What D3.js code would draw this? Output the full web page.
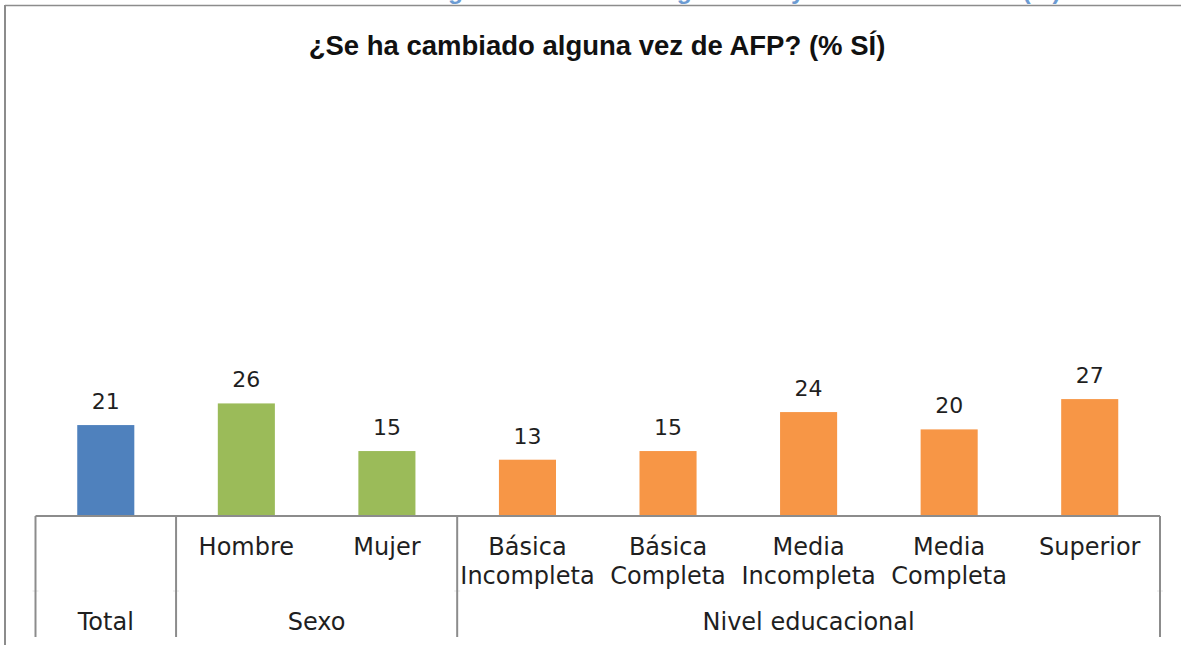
<!DOCTYPE html>
<html>
<head>
<meta charset="utf-8">
<script src="https://cdn.jsdelivr.net/npm/d3@7"></script>
<style>
  html, body { margin: 0; padding: 0; background: #fff; }
  svg { display: block; }
</style>
</head>
<body>
<svg id="chart" width="1181" height="645"></svg>
<script>
// ---- data ----
const categories = ["Total", "Hombre", "Mujer", "Básica Incompleta", "Básica Completa", "Media Incompleta", "Media Completa", "Superior"];
const categoryLines = [[""], ["Hombre"], ["Mujer"], ["Básica", "Incompleta"], ["Básica", "Completa"], ["Media", "Incompleta"], ["Media", "Completa"], ["Superior"]];
const values = [21, 26, 15, 13, 15, 24, 20, 27];
const groups = ["Total", "Sexo", "Sexo", "Nivel educacional", "Nivel educacional", "Nivel educacional", "Nivel educacional", "Nivel educacional"];
const groupNames = ["Total", "Sexo", "Nivel educacional"];
const groupColors = ["#4F81BD", "#9BBB59", "#F79646"];
const titleText = "¿Se ha cambiado alguna vez de AFP? (% SÍ)";
const headerText = "Gráfico: Se ha cambiado alguna vez de AFP según sexo y nivel educacional (%)";

// ---- layout ----
const svg = d3.select("#chart");
const W = 1181, H = 645;
const left = 35.5, right = 1160, baseY = 516, topY = 83;
const labelFont = "'DejaVu Sans', sans-serif";
const textColor = "#1f1f1f";
const lineColor = "#8c8c8c";

const x = d3.scaleBand().domain(categories).range([left, right]).paddingInner(0).paddingOuter(0);
const y = d3.scaleLinear().domain([0, 100]).range([baseY, topY]);
const color = d3.scaleOrdinal().domain(groupNames).range(groupColors);
const barW = x.bandwidth() * 0.406;

// header (cut off at top edge, as in the source page)
svg.append("text")
  .attr("x", 597).attr("y", -1)
  .attr("text-anchor", "middle")
  .attr("font-family", "'Liberation Sans', sans-serif")
  .attr("font-weight", "bold")
  .attr("font-size", 24.5)
  .attr("fill", "#6c9bd2")
  .text(headerText);

// outer frame
svg.append("line").attr("x1", 5).attr("x2", W).attr("y1", 5.5).attr("y2", 5.5)
  .attr("stroke", lineColor).attr("stroke-width", 1.5);
svg.append("line").attr("x1", 5).attr("x2", 5).attr("y1", 5).attr("y2", H)
  .attr("stroke", lineColor).attr("stroke-width", 2);

// title
svg.append("text")
  .attr("x", 597).attr("y", 55)
  .attr("text-anchor", "middle")
  .attr("font-family", "'Liberation Sans', sans-serif")
  .attr("font-weight", "bold")
  .attr("font-size", 27.5)
  .attr("fill", "#111")
  .text(titleText);

// bars
svg.append("g").selectAll("rect").data(categories).join("rect")
  .attr("x", d => x(d) + (x.bandwidth() - barW) / 2)
  .attr("width", barW)
  .attr("y", (d, i) => y(values[i]))
  .attr("height", (d, i) => baseY - y(values[i]))
  .attr("fill", (d, i) => color(groups[i]));

// value labels
svg.append("g").selectAll("text").data(categories).join("text")
  .attr("x", d => x(d) + x.bandwidth() / 2)
  .attr("y", (d, i) => y(values[i]) - 16)
  .attr("text-anchor", "middle")
  .attr("font-family", labelFont)
  .attr("font-size", 22)
  .attr("fill", textColor)
  .text((d, i) => values[i]);

// axis line (category axis via d3 axis, ticks hidden)
const axisG = svg.append("g").attr("transform", `translate(0,${baseY})`)
  .call(d3.axisBottom(x).tickSize(0).tickFormat(""));
axisG.select(".domain").attr("stroke", lineColor).attr("stroke-width", 2)
  .attr("d", `M${left},0H${right}`);

// group spans
const spans = [];
groups.forEach((g, i) => {
  const last = spans[spans.length - 1];
  if (last && last.name === g) last.end = i;
  else spans.push({ name: g, start: i, end: i });
});
const dividerXs = [left].concat(spans.map(s => x(categories[s.end]) + x.bandwidth()));
// faint row ticks (under dividers)
svg.append("g").selectAll("line").data(dividerXs).join("line")
  .attr("x1", d => d - 3).attr("x2", d => d + 3)
  .attr("y1", 591).attr("y2", 591)
  .attr("stroke", "#e6e6e6").attr("stroke-width", 1);
svg.append("g").selectAll("line").data(dividerXs).join("line")
  .attr("x1", d => d).attr("x2", d => d)
  .attr("y1", baseY).attr("y2", 637)
  .attr("stroke", lineColor).attr("stroke-width", 2);

// category labels
const catG = svg.append("g");
categories.forEach((c, i) => {
  const t = catG.append("text")
    .attr("x", x(c) + x.bandwidth() / 2)
    .attr("y", 555)
    .attr("text-anchor", "middle")
    .attr("font-family", labelFont)
    .attr("font-size", 24)
    .attr("fill", textColor);
  categoryLines[i].forEach((ln, j) => {
    t.append("tspan").attr("x", x(c) + x.bandwidth() / 2).attr("dy", j === 0 ? 0 : 29).text(ln);
  });
});

// group labels
svg.append("g").selectAll("text").data(spans).join("text")
  .attr("x", s => (x(categories[s.start]) + x(categories[s.end]) + x.bandwidth()) / 2)
  .attr("y", 630)
  .attr("text-anchor", "middle")
  .attr("font-family", labelFont)
  .attr("font-size", 24)
  .attr("fill", textColor)
  .text(s => s.name);
</script>
</body>
</html>
